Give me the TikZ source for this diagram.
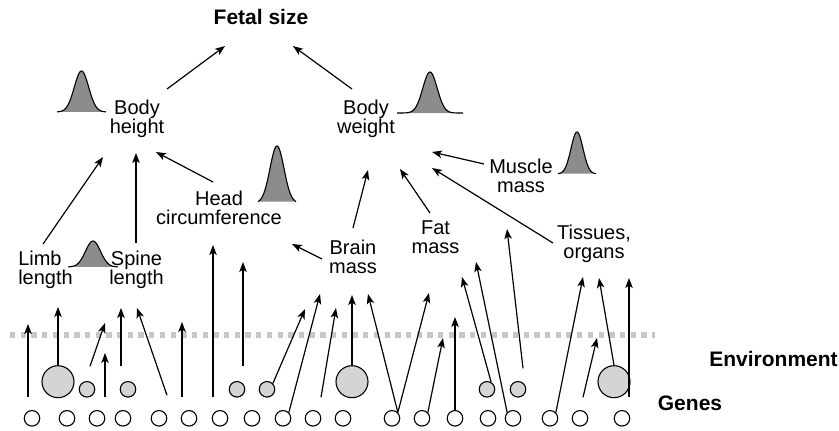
\documentclass[tikz,border=0pt]{standalone}
\usepackage{fontspec}
\setmainfont{Liberation Sans}
\usetikzlibrary{arrows.meta,calc}
\tikzset{
	arr/.style={-{Stealth[length=10pt,width=7.5pt,inset=2.5pt]}, line width=1.2pt},
	gene/.style={circle, draw, fill=white, line width=1.1pt, minimum size=15.5pt, inner sep=0pt},
	envsm/.style={gene, fill=black!17},
	envbig/.style={envsm, minimum size=32pt},
	lbl/.style={align=center, inner sep=0pt, font=\fontsize{20}{19}\selectfont},
	ttl/.style={inner sep=0pt, font=\fontsize{21}{20}\selectfont\bfseries},
}
\newcommand{\bellcurve}[5]{%
	\fill[black!45] plot[domain=-#3:#3, samples=61] ({#1+\x},{#2-#4*exp(-(\x*\x)/(2*#5*#5))}) -- cycle;
	\draw[line width=1.1pt] plot[domain=-#3:#3, samples=61] ({#1+\x},{#2-#4*exp(-(\x*\x)/(2*#5*#5))});
}
\begin{document}
\begin{tikzpicture}[x=1pt, y=-1pt]
	\useasboundingbox (0,0) rectangle (839,431);
	\draw[black!22, line width=6pt, dash pattern=on 5.3pt off 5.4pt] (10,335) -- (655,335);
	\bellcurve{81.5}{112}{24.5}{41}{7.2}
	\bellcurve{430}{113}{33}{41}{7.2}
	\bellcurve{277}{203}{19}{57}{7}
	\bellcurve{577}{174}{19}{42}{6}
	\bellcurve{93}{267}{25}{26}{7.5}
	\node[ttl] (fetal) at (261,17) {Fetal size};
	\node[lbl] (bheight) at (137,119) {Body\\height};
	\node[lbl] (bweight) at (366,119) {Body\\weight};
	\node[lbl] (head) at (219,208) {Head\\circumference};
	\node[lbl] (brain) at (353,257) {Brain\\mass};
	\node[lbl, align=left] (limb) at (45.5,270) {Limb\\length};
	\node[lbl] (spine) at (136.5,270) {Spine\\length};
	\node[lbl] (fat) at (435.5,237.5) {Fat\\mass};
	\node[lbl] (muscle) at (521,175.5) {Muscle\\mass};
	\node[lbl] (tissues) at (594,243.5) {Tissues,\\organs};
	\node[ttl] (env) at (773.5,359) {Environment};
	\node[ttl] (genes) at (690,403) {Genes};
	\foreach \x [count=\i] in {32,67,97,123,159,189,220,252,283,313,343,392,422,455,488,513,550,580,622}
		\node[gene] (g\i) at (\x,418.3) {};
	\foreach \x/\y/\s [count=\i] in {58/381.7/envbig, 87/389.3/envsm, 128/389.3/envsm, 237/389.3/envsm, 267/389.3/envsm, 352/381.7/envbig, 487/389.3/envsm, 518/389.3/envsm, 614/381.7/envbig}
		\node[\s] (e\i) at (\x,\y) {};
	\draw[arr] ($(bheight)+(30,-30)$) -- ($(fetal)+(-36,29)$);
	\draw[arr] ($(bweight)+(-14,-30)$) -- ($(fetal)+(32,29)$);
	\draw[arr] ($(limb)+(-2.5,-26)$) -- ($(bheight)+(-34,38)$);
	\draw[arr] ($(spine)+(-0.5,-27)$) -- ($(bheight)+(-1,34)$);
	\draw[arr] ($(head)+(-6,-26)$) -- ($(bheight)+(19,33)$);
	\draw[arr] ($(brain)+(-31,2)$) -- ($(head)+(73,36)$);
	\draw[arr] ($(brain)+(0,-29)$) -- ($(bweight)+(2,51)$);
	\draw[arr] ($(fat)+(-5.5,-24.5)$) -- ($(bweight)+(34,50)$);
	\draw[arr] ($(muscle)+(-37,-11.5)$) -- ($(bweight)+(66,33)$);
	\draw[arr] ($(tissues)+(-41,-0.5)$) -- ($(bweight)+(66,49)$);
	\draw[arr] ($(g1)+(-4,-21)$) -- ($(limb)+(-17.5,54)$);
	\draw[arr] (e1.north) -- ($(limb)+(12.5,37)$);
	\draw[arr] ($(e2)+(3,-23)$) -- ($(spine)+(-31.5,53)$);
	\draw[arr] ($(g3)+(8,-21)$) -- ($(spine)+(-31.5,83)$);
	\draw[arr] ($(e3)+(-7,-23)$) -- ($(spine)+(-15.5,38)$);
	\draw[arr] ($(g5)+(8,-23)$) -- ($(spine)+(0.5,38)$);
	\draw[arr] ($(g6)+(-7,-21)$) -- ($(spine)+(45.5,52)$);
	\draw[arr] ($(g7)+(-7,-21)$) -- ($(head)+(-6,37)$);
	\draw[arr] ($(e4)+(6,-23)$) -- ($(head)+(24,54)$);
	\draw[arr] (e5.north east) -- ($(brain)+(-48,52)$);
	\draw[arr] (g9.north east) -- ($(brain)+(-33,37)$);
	\draw[arr] ($(g10)+(8,-21)$) -- ($(brain)+(-17,51)$);
	\draw[arr] (e6.north) -- ($(brain)+(-1,38)$);
	\draw[arr] (g12.north east) -- ($(brain)+(15,37)$);
	\draw[arr] (g12.north east) -- ($(fat)+(-6.5,55.5)$);
	\draw[arr] (g13.north east) -- ($(fat)+(7.5,100.5)$);
	\draw[arr] (g14.north) -- ($(fat)+(19.5,79.5)$);
	\draw[arr] (e7.60) -- ($(fat)+(26.5,39.5)$);
	\draw[arr] (g16.north west) -- ($(fat)+(40.5,24.5)$);
	\draw[arr] ($(e8)+(5,-21)$) -- ($(fat)+(71.5,-8.5)$);
	\draw[arr] (g17.north east) -- ($(tissues)+(-11,33.5)$);
	\draw[arr] ($(g18)+(3,-21)$) -- ($(tissues)+(3,94.5)$);
	\draw[arr] (e9.north) -- ($(tissues)+(5,34.5)$);
	\draw[arr] ($(g19)+(7,-21)$) -- ($(tissues)+(35,34.5)$);
\end{tikzpicture}
\end{document}
